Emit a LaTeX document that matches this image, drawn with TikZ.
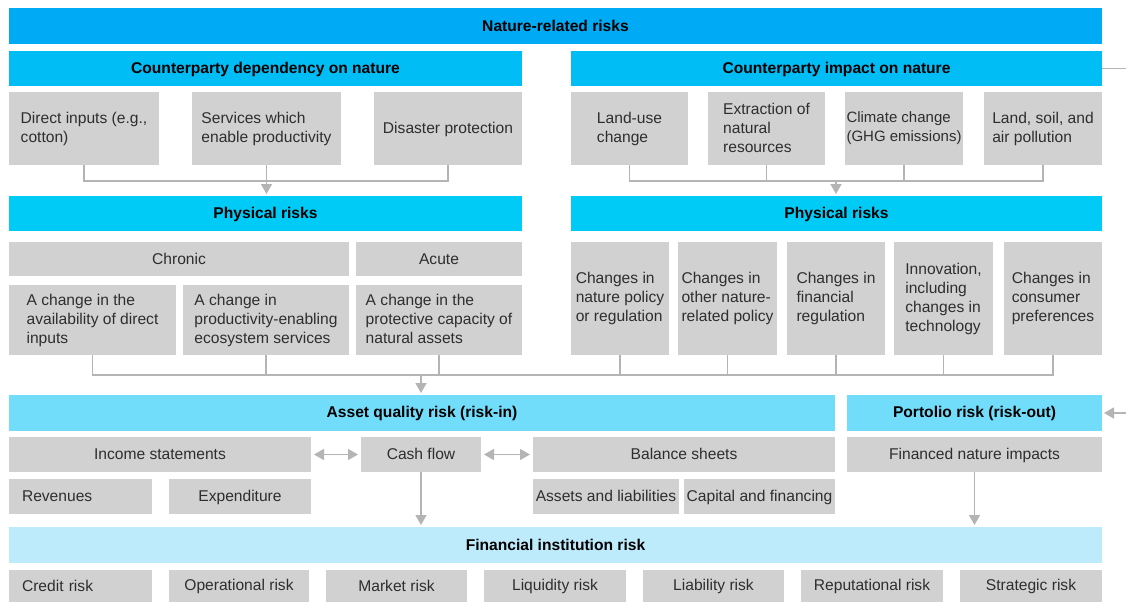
\documentclass[tikz,border=0pt]{standalone}
\usepackage{fontspec}
\setmainfont{Liberation Sans}
\usetikzlibrary{arrows.meta}
\definecolor{cTop}{HTML}{00AAF5}
\definecolor{cCp}{HTML}{00BDF5}
\definecolor{cPhys}{HTML}{00CBF6}
\definecolor{cAsset}{HTML}{72DDFA}
\definecolor{cFi}{HTML}{BEEBFB}
\definecolor{cGray}{HTML}{D1D1D1}
\definecolor{cLine}{HTML}{B4B4B4}
\definecolor{cText}{HTML}{2E2E2E}
\newcommand\bx[7]{%
  \pgfmathsetmacro\bw{#4-#2}\pgfmathsetmacro\bh{#5-#3}%
  \node[#6,minimum width=\bw pt,minimum height=\bh pt] (#1) at ({(#2+#4)/2},{(#3+#5)/2}) {#7};}
\tikzset{
  base/.style={inner sep=0pt,outer sep=0pt,anchor=center,
    execute at begin node=\rule{0pt}{13pt},execute at end node=\rule[-2.1pt]{0pt}{2.1pt},
    font=\fontsize{15.6}{19}\selectfont},
  hdr/.style={base,text=black,font=\fontsize{15.6}{19}\selectfont\bfseries},
  topbar/.style={hdr,fill=cTop},
  cpbar/.style={hdr,fill=cCp},
  physbar/.style={hdr,fill=cPhys},
  assetbar/.style={hdr,fill=cAsset},
  fibar/.style={hdr,fill=cFi},
  gbox/.style={base,fill=cGray,text=cText,align=left},
  tight/.style={font=\fontsize{15}{19}\selectfont},
  conn/.style={draw=cLine,line width=1.5pt},
  arr/.style={conn,-{Triangle[width=11pt,length=10pt]},shorten >=2pt},
  darr/.style={conn,{Triangle[width=11pt,length=10pt]}-{Triangle[width=11pt,length=10pt]},shorten >=3pt,shorten <=3pt}
}
\begin{document}
\begin{tikzpicture}[x=1pt,y=-1pt]
\useasboundingbox (0,0) rectangle (1126,602);
% headers
\bx{top}{9}{8}{1102}{44}{topbar}{Nature-related risks}
\bx{dep}{9}{51}{522}{86}{cpbar}{Counterparty dependency on nature}
\bx{imp}{571}{51}{1102}{86}{cpbar}{Counterparty impact on nature}
% row 1 left
\bx{d1}{9}{92}{159}{165}{gbox}{Direct inputs (e.g.,\\cotton)}
\bx{d2}{192}{92}{341}{165}{gbox}{Services which\\enable productivity}
\bx{d3}{374}{92}{522}{165}{gbox}{Disaster protection}
% row 1 right
\bx{i1}{571}{92}{688}{165}{gbox}{Land-use\\change}
\bx{i2}{708}{92}{825}{165}{gbox}{Extraction of\\natural\\resources}
\bx{i3}{845}{92}{963}{165}{gbox,tight}{Climate change\\(GHG emissions)}
\bx{i4}{984}{92}{1102}{165}{gbox}{Land, soil, and\\air pollution}
% physical risks
\bx{pr}{9}{196}{522}{231}{physbar}{Physical risks}
\bx{pr2}{571}{196}{1102}{231}{physbar}{Physical risks}
% chronic / acute
\bx{chr}{9}{242}{349}{276}{gbox}{Chronic}
\bx{acu}{356}{242}{522}{276}{gbox}{Acute}
\bx{c1}{9}{285}{176}{355}{gbox}{A change in the\\availability of direct\\inputs}
\bx{c2}{183}{285}{349}{355}{gbox}{A change in\\productivity-enabling\\ecosystem services}
\bx{c3}{356}{285}{522}{355}{gbox}{A change in the\\protective capacity of\\natural assets}
% transition boxes
\bx{t1}{571}{242}{669}{355}{gbox}{Changes in\\nature policy\\or regulation}
\bx{t2}{678}{242}{777}{355}{gbox}{Changes in\\other nature-\\related policy}
\bx{t3}{787}{242}{885}{355}{gbox}{Changes in\\financial\\regulation}
\bx{t4}{894}{242}{993}{355}{gbox}{Innovation,\\including\\changes in\\technology}
\bx{t5}{1004}{242}{1102}{355}{gbox}{Changes in\\consumer\\preferences}
% asset / portfolio
\bx{aq}{9}{395}{835}{431}{assetbar}{Asset quality risk (risk-in)}
\bx{pf}{847}{395}{1102}{431}{assetbar}{Portolio risk (risk-out)}
\bx{inc}{9}{437}{311}{472}{gbox}{Income statements}
\bx{cf}{361}{437}{481}{472}{gbox}{Cash flow}
\bx{bs}{533}{437}{835}{472}{gbox}{Balance sheets}
\bx{fn}{847}{437}{1102}{472}{gbox}{Financed nature impacts}
\bx{rev}{9}{479}{152}{514}{gbox,text width=117pt}{Revenues}
\bx{exq}{169}{479}{311}{514}{gbox}{Expenditure}
\bx{al}{533}{479}{679}{514}{gbox}{Assets and liabilities}
\bx{cap}{684}{479}{835}{514}{gbox}{Capital and financing}
% financial institution risk
\bx{fi}{9}{527}{1102}{563}{fibar}{Financial institution risk}
\bx{r1}{9}{570}{152}{602}{gbox,text width=117pt}{Credit risk}
\bx{r2}{169}{570}{309}{602}{gbox}{Operational risk}
\bx{r3}{326}{570}{467}{602}{gbox}{Market risk}
\bx{r4}{484}{570}{626}{602}{gbox}{Liquidity risk}
\bx{r5}{643}{570}{784}{602}{gbox}{Liability risk}
\bx{r6}{801}{570}{943}{602}{gbox}{Reputational risk}
\bx{r7}{960}{570}{1102}{602}{gbox}{Strategic risk}
% connectors: top left
\draw[conn] (d1.south) -- (d1.south |- 0,181) -| (d3.south);
\draw[conn] (d2.south) -- (d2.south |- 0,181);
\draw[arr] (d2.south |- 0,181) -- (pr.north -| d2.south);
% top right
\draw[conn] (i1.south) -- (i1.south |- 0,181) -| (i4.south);
\draw[conn] (i2.south) -- (i2.south |- 0,181);
\draw[conn] (i3.south) -- (i3.south |- 0,181);
\coordinate (jr) at (836,181);
\draw[arr] (jr) -- (pr2.north -| jr);
% middle tree
\draw[conn] (c1.south) -- (c1.south |- 0,375) -| (t5.south);
\foreach \n in {c2,c3,t1,t2,t3,t4}{\draw[conn] (\n.south) -- (\n.south |- 0,375);}
\coordinate (jm) at (421,375);
\draw[arr] (jm) -- (aq.north -| jm);
% statements
\draw[darr] (inc.east) -- (cf.west);
\draw[darr] (cf.east) -- (bs.west);
\draw[arr] (cf.south) -- (fi.north -| cf.south);
\draw[arr] (fn.south) -- (fi.north -| fn.south);
% right edge
\coordinate (e1) at (1126,68);
\coordinate (e2) at (1126,412);
\draw[conn] (imp.east) -- (imp.east -| e1);
\draw[arr] (pf.east -| e2) -- (pf.east);
\end{tikzpicture}
\end{document}
